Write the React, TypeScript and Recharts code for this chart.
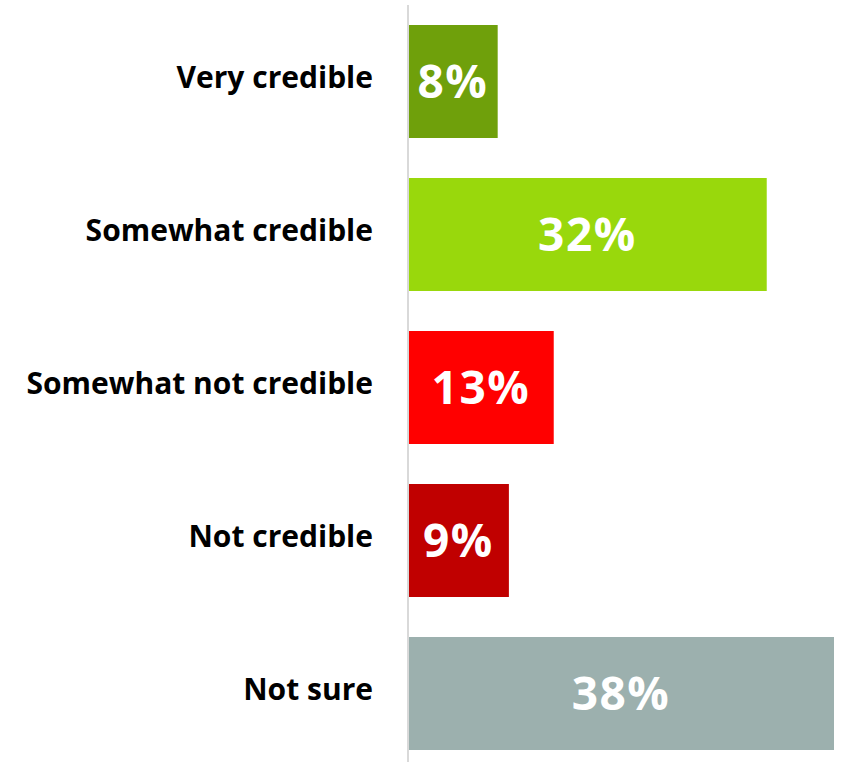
import { Bar, BarChart, Cell, LabelList, XAxis, YAxis } from "recharts"

const categories = ["Very credible", "Somewhat credible", "Somewhat not credible", "Not credible", "Not sure"]
const shares = [8, 32, 13, 9, 38]
const colors = ["#6fa00b", "#99d80c", "#ff0000", "#c00000", "#9cb0ae"]

const data = categories.map((name, i) => ({ name, value: shares[i] }))

const font = "'Open Sans', 'DejaVu Sans', sans-serif"

// category label, nudged a little above the bar centre like the original
function CategoryTick(props: any) {
  const { x, y, payload } = props
  return (
    <text x={x} y={y} dy={6.5} textAnchor="end" fill="#000" fontSize={30} fontWeight={700} fontFamily={font}>
      {payload.value}
    </text>
  )
}

export default function App() {
  return (
    <div style={{ position: "absolute", top: 0, left: 0, width: 841, height: 762, overflow: "hidden", background: "#fff" }}>
      <BarChart
        width={841}
        height={775}
        data={data}
        layout="vertical"
        margin={{ top: 5, right: 7, bottom: 5, left: 0 }}
        barCategoryGap={20}
      >
        <XAxis type="number" domain={[0, 38]} hide />
        <YAxis
          type="category"
          dataKey="name"
          width={408}
          tickLine={false}
          tickSize={0}
          tickMargin={35}
          axisLine={{ stroke: "#d9d9d9", strokeWidth: 2 }}
          tick={<CategoryTick />}
        />
        <Bar dataKey="value" isAnimationActive={false}>
          {data.map((d, i) => (
            <Cell key={d.name} fill={colors[i]} />
          ))}
          <LabelList
            dataKey="value"
            position="center"
            formatter={(v: any) => `${v}%`}
            fill="#fff"
            style={{ fontSize: 46, fontWeight: 700, fontFamily: font, letterSpacing: 1.5 }}
          />
        </Bar>
      </BarChart>
    </div>
  )
}
